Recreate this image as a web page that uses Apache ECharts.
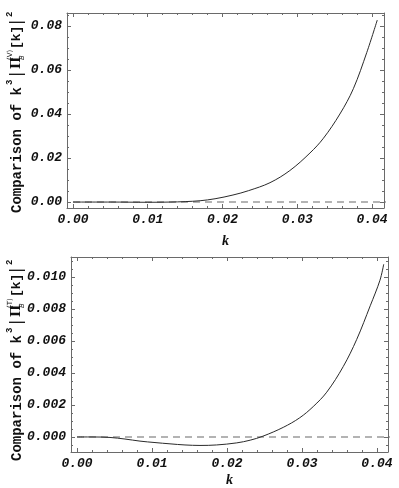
<!DOCTYPE html>
<html>
<head>
<meta charset="utf-8">
<script src="https://cdn.jsdelivr.net/npm/echarts@6/dist/echarts.min.js"></script>
<style>
html, body { margin: 0; padding: 0; background: #fff; }
#chart { width: 399px; height: 488px; }
</style>
</head>
<body>
<div id="chart"></div>
<script>
// upper panel: k^3 |Pi_B^(V)[k]|^2
var kV   = [0, 0.005, 0.010, 0.013, 0.015, 0.017, 0.019, 0.0214, 0.0235, 0.02635, 0.029, 0.0317, 0.0335, 0.0357, 0.0375, 0.0393, 0.0407];
var valV = [0, 0, -0.0001, 0, 0.0002, 0.0006, 0.0015, 0.0032, 0.0052, 0.0088, 0.0143, 0.0223, 0.029, 0.040, 0.0515, 0.068, 0.0827];

// lower panel: k^3 |Pi_B^(T)[k]|^2
var kT   = [0, 0.002, 0.0044, 0.0064, 0.0084, 0.0104, 0.0124, 0.0144, 0.0164, 0.0186, 0.0213, 0.0231, 0.0248, 0.0275, 0.0297, 0.0315, 0.0333, 0.0355, 0.0373, 0.0391, 0.0404, 0.0409];
var valT = [0, 0, -0.00003, -0.00013, -0.00026, -0.00035, -0.00043, -0.0005, -0.00053, -0.0005, -0.00037, -0.0002, 0.00005, 0.0006, 0.0012, 0.0019, 0.0028, 0.0044, 0.0061, 0.0082, 0.0098, 0.0108];

// dashed zero line
var refK = [0, 0.042];
var refVal = [0, 0];

// tick labels
var xTicks  = [0, 0.01, 0.02, 0.03, 0.04];
var yTicksV = [0, 0.02, 0.04, 0.06, 0.08];
var yTicksT = [0, 0.002, 0.004, 0.006, 0.008, 0.010];

var frameColor = '#6a6a6a';
var monoFont = 'Liberation Mono';

function steps(from, to, step) {
    var out = [];
    for (var i = 0; from + i * step <= to + step * 1e-6; i++) {
        out.push(+(from + i * step).toFixed(6));
    }
    return out;
}

// one side of the frame: major ticks (+labels) and minor ticks on an overlaid axis
function side(grid, pos, min, max, major, minor, labels, digits, name, nameGap) {
    var base = {
        type: 'value', gridIndex: grid, position: pos, min: min, max: max,
        splitLine: { show: false }
    };
    var a = Object.assign({}, base, {
        axisLine: { show: true, onZero: false, lineStyle: { color: frameColor, width: 1 } },
        axisTick: { show: true, inside: true, length: 4, customValues: major, lineStyle: { color: frameColor } },
        axisLabel: {
            show: labels, customValues: major, margin: 5,
            formatter: function (v) { return v.toFixed(digits); },
            fontFamily: monoFont, fontWeight: 'bold', fontStyle: 'italic', fontSize: 13, color: '#111'
        }
    });
    if (name) {
        a.name = name;
        a.nameLocation = 'middle';
        a.nameGap = nameGap;
        a.nameTextStyle = { fontFamily: 'Liberation Serif', fontWeight: 'bold', fontStyle: 'italic', fontSize: 14, color: '#111' };
    }
    var b = Object.assign({}, base, {
        axisLine: { show: false, onZero: false },
        axisTick: { show: true, inside: true, length: 2, customValues: minor, lineStyle: { color: frameColor } },
        axisLabel: { show: false }
    });
    return [a, b];
}

var xAxes = [], yAxes = [];
// upper grid (0)
xAxes = xAxes.concat(
    side(0, 'bottom', -0.0008, 0.0416, xTicks, steps(0, 0.04, 0.002), true, 2, 'k', 26),
    side(0, 'top', -0.0008, 0.0416, xTicks, steps(0, 0.04, 0.002), false, 2)
);
yAxes = yAxes.concat(
    side(0, 'left', -0.0027, 0.0859, yTicksV, steps(0, 0.085, 0.005), true, 2),
    side(0, 'right', -0.0027, 0.0859, yTicksV, steps(0, 0.085, 0.005), false, 2)
);
// lower grid (1)
xAxes = xAxes.concat(
    side(1, 'bottom', -0.0008, 0.04147, xTicks, steps(0, 0.04, 0.002), true, 2, 'k', 21),
    side(1, 'top', -0.0008, 0.04147, xTicks, steps(0, 0.04, 0.002), false, 2)
);
yAxes = yAxes.concat(
    side(1, 'left', -0.00094, 0.01125, yTicksT, steps(-0.0005, 0.011, 0.0005), true, 3),
    side(1, 'right', -0.00094, 0.01125, yTicksT, steps(-0.0005, 0.011, 0.0005), false, 3)
);

function pairs(xs, ys) {
    return xs.map(function (x, i) { return [x, ys[i]]; });
}

function curve(ax, xs, ys) {
    return {
        type: 'line', xAxisIndex: ax, yAxisIndex: ax, data: pairs(xs, ys),
        showSymbol: false, smooth: 0.35, silent: true,
        lineStyle: { color: '#2a2a2a', width: 1 }, z: 3
    };
}
function zeroLine(ax) {
    return {
        type: 'line', xAxisIndex: ax, yAxisIndex: ax, data: pairs(refK, refVal),
        showSymbol: false, silent: true,
        lineStyle: { color: '#9a9a9a', width: 1.4, type: [7, 5] }, z: 2
    };
}

// rotated y title with stacked sub/superscript
function yTitle(x, y, tag) {
    var big = 'bold 14px "' + monoFont + '"';
    var mid = 'bold 13px "' + monoFont + '"';
    var small = 'bold 9px "' + monoFont + '"';
    var tiny = '7px "DejaVu Sans"';
    var bar = '16px "DejaVu Sans"';
    function t(text, dx, dy, font) {
        return { type: 'text', x: dx, y: dy, style: { text: text, font: font, fill: '#111', align: 'left', verticalAlign: 'middle' } };
    }
    return {
        type: 'group', x: x, y: y, rotation: Math.PI / 2,
        children: [
            t('Comparison of k', 0, 0, big),
            t('3', 128, -7, small),
            t('|', 136, 0, bar),
            t('\u03a0', 144, 0, 'bold 13px "DejaVu Serif"'),
            t('(' + tag + ')', 153, -7, tiny),
            t('B', 153, 5, 'italic ' + tiny),
            t('[k]', 164, 0, mid),
            t('|', 188, 0, bar),
            t('2', 196, -7, small)
        ]
    };
}

var chart = echarts.init(document.getElementById('chart'));
chart.setOption({
    animation: false,
    backgroundColor: '#fff',
    grid: [
        { left: 67, top: 13, right: 15, height: 195 },
        { left: 71, top: 257, right: 11, height: 195 }
    ],
    xAxis: xAxes,
    yAxis: yAxes,
    series: [zeroLine(0), curve(0, kV, valV), zeroLine(4), curve(4, kT, valT)],
    graphic: [yTitle(17, 213, 'V'), yTitle(17, 461, 'T')]
});
</script>
</body>
</html>
